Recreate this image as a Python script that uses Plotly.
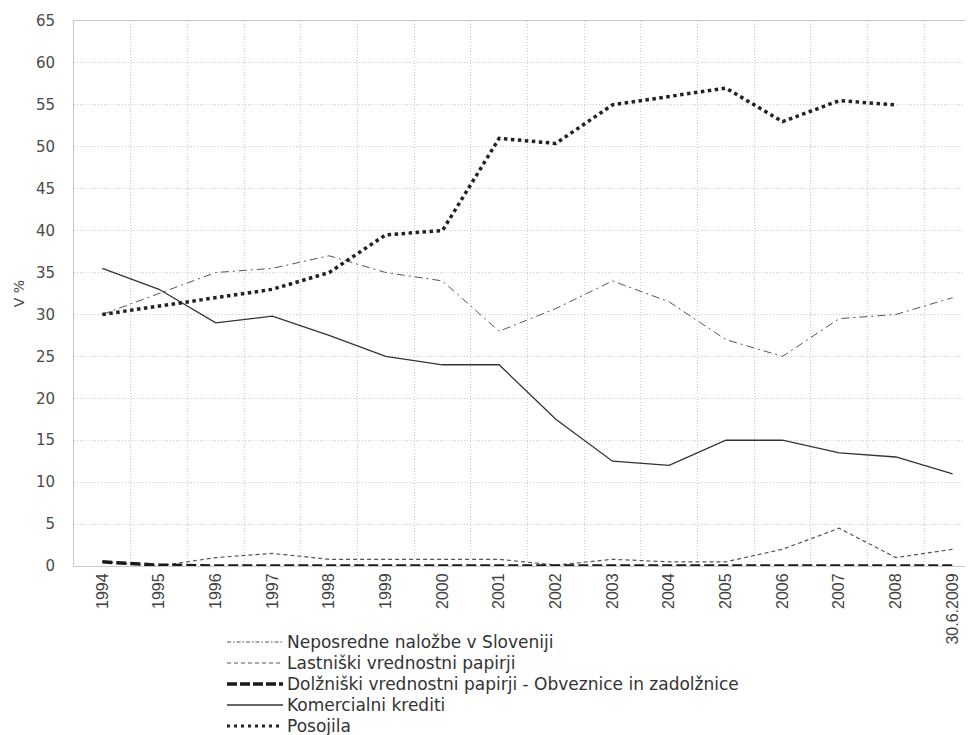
import plotly.graph_objects as go

categories = ["1994", "1995", "1996", "1997", "1998", "1999", "2000", "2001",
              "2002", "2003", "2004", "2005", "2006", "2007", "2008", "30.6.2009"]

neposredne = [30, 32.5, 35, 35.5, 37, 35, 34, 28, 30.7, 34, 31.5, 27, 25, 29.5, 30, 32]
lastniski = [0.5, 0, 1, 1.5, 0.8, 0.8, 0.8, 0.8, 0.1, 0.8, 0.5, 0.5, 2, 4.5, 1, 2]
dolzniski = [0.5, 0.1, 0, 0, 0, 0, 0, 0, 0, 0, 0, 0, 0, 0, 0, 0]
komercialni = [35.5, 33, 29, 29.8, 27.5, 25, 24, 24, 17.5, 12.5, 12, 15, 15, 13.5, 13, 11]
posojila = [30, 31, 32, 33, 35, 39.5, 40, 51, 50.4, 55, 56, 57, 53, 55.5, 55, None]

series_names = ["Neposredne naložbe v Sloveniji", "Lastniški vrednostni papirji",
                "Dolžniški vrednostni papirji - Obveznice in zadolžnice",
                "Komercialni krediti", "Posojila"]
series_values = [neposredne, lastniski, dolzniski, komercialni, posojila]

styles = [
    dict(color="#555555", width=1, dash="8px,4px,2px,4px"),
    dict(color="#555555", width=1.2, dash="4px,3px"),
    dict(color="#1a1a1a", width=3.5, dash="10px,4px"),
    dict(color="#333333", width=1.3),
    dict(color="#222222", width=3.5, dash="3.5px,3.5px"),
]
legend_styles = [
    dict(color="#555555", width=1, dash="4px,2px,1.5px,2px"),
    dict(color="#555555", width=1.2, dash="4px,3px"),
    dict(color="#1a1a1a", width=3.5, dash="10px,3px"),
    dict(color="#333333", width=1.3),
    dict(color="#222222", width=3, dash="3px,4px"),
]

# page has an 8px body margin; figure coordinates below are page coords minus 8
OFF = 8
W, H = 973 - OFF, 735 - OFF
L, T = 74 - OFF, 21 - OFF
plot_bottom = 566 - OFF
R = 0
B = H - plot_bottom
pw, ph = W - L - R, plot_bottom - T

fig = go.Figure()
for name, vals, st in zip(series_names, series_values, styles):
    fig.add_trace(go.Scatter(x=categories, y=vals, mode="lines", name=name,
                             line=st, showlegend=False))

# legend drawn below the plot area
legend_rows_px = [642, 663, 684, 705, 726]
shapes = []
annotations = []
for name, st, ypage in zip(series_names, legend_styles, legend_rows_px):
    ypx = ypage - OFF
    yp = (plot_bottom - ypx) / ph
    shapes.append(dict(type="line", xref="paper", yref="paper",
                       x0=(227 - OFF - L) / pw, x1=(283 - OFF - L) / pw, y0=yp, y1=yp,
                       line=st))
    annotations.append(dict(text=name, xref="paper", yref="paper",
                            x=(286 - OFF - L) / pw, y=yp, xanchor="left", yanchor="middle",
                            showarrow=False, borderpad=0,
                            font=dict(family="DejaVu Sans, sans-serif",
                                      size=17, color="#333333")))

fig.update_layout(
    width=W, height=H,
    margin=dict(l=L, r=R, t=T, b=B, autoexpand=False),
    paper_bgcolor="white", plot_bgcolor="white",
    font=dict(family="DejaVu Sans, sans-serif", color="#404040"),
    showlegend=False,
    shapes=shapes,
    annotations=annotations,
    xaxis=dict(type="category", range=[-0.5, 15.36], tickson="boundaries",
               showgrid=True, gridcolor="#cccccc", griddash="1px,2px", gridwidth=1,
               showline=True, linecolor="#c8c8c8", mirror=True, automargin=False,
               tickangle=-90, ticks="outside", ticklen=7, tickcolor="rgba(0,0,0,0)",
               tickfont=dict(family="Liberation Sans, Arial, sans-serif", size=16,
                             color="#404040")),
    yaxis=dict(range=[0, 65], dtick=5, showgrid=True, gridcolor="#cccccc",
               griddash="1px,2px", gridwidth=1, showline=True, linecolor="#c8c8c8",
               zeroline=False, automargin=False,
               ticks="outside", ticklen=15, tickcolor="rgba(0,0,0,0)",
               tickfont=dict(family="DejaVu Sans, sans-serif", size=15, color="#4a4a4a"),
               title=dict(text="V %", font=dict(family="DejaVu Sans, sans-serif",
                                                size=14, color="#4a4a4a"),
                          standoff=8)),
)

fig.write_html("out.html")
